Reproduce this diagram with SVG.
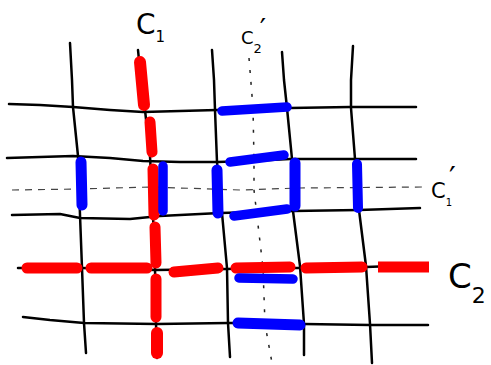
<svg xmlns="http://www.w3.org/2000/svg" width="491" height="365" viewBox="0 0 491 365">
<style>
.g{fill:none;stroke:#000;stroke-width:2.5;stroke-linecap:round;stroke-linejoin:round}
.dash{fill:none;stroke:#444;stroke-width:1.2;stroke-dasharray:7 6}
.dot{fill:none;stroke:#222;stroke-width:1.5;stroke-dasharray:3 9}
.b{fill:none;stroke:#0000ff;stroke-width:9.5;stroke-linecap:round}
.r{fill:none;stroke:#ff0000;stroke-width:11;stroke-linecap:round}
.lbl{font-family:"DejaVu Sans","Liberation Sans",sans-serif;fill:#000}
</style>
<rect width="491" height="365" fill="#fff"/>
<g id="grid">
<polyline class="g" points="9,104 40,105 73,107 110,110 143,112 180,111 217,110 250,109 290,108 350,107 416,107"/>
<polyline class="g" points="7,158 40,157 73,156 110,158 143,161 180,162 217,162 250,161 290,159 355,159 416,159"/>
<polyline class="g" points="12,215 60,214 80,218 130,219 160,216 220,213 293,211 359,210 420,208"/>
<polyline class="g" points="18,268 82,268 155,270 227,269 262,268 301,268 366,267 420,265"/>
<polyline class="g" points="23,317 50,320 84,323 157,324 228,323 265,323 304,324 370,325 428,325"/>
<polyline class="g" points="70,43 72,80 73,107 78,156 80,215 82,268 84,323 86,353"/>
<polyline class="g" points="138,50 141,80 145,110 150,156 153,215 155,268 156,323 157,358"/>
<polyline class="g" points="212,50 214,80 215,110 217,162 222,213 227,268 228,323 230,357"/>
<polyline class="g" points="282,52 284,80 287,108 292,159 293,211 300,266 304,324 304,355"/>
<polyline class="g" points="353,46 351,80 351,108 355,159 359,210 366,266 370,324 372,363"/>
</g>
<g id="dashed-lines">
<polyline class="dash" points="12,190 80,189 150,187 240,190 300,188 423,187"/>
<polyline class="dot" points="249,58 253,108 254,160 254,190 263,268 265,324 272,363"/>
</g>
<g id="red-cycles">
<path class="r" d="M140,62 L144,105" style="stroke-width:12"/>
<path class="r" d="M150,122 L152,152"/>
<path class="r" d="M153,169 L154,215"/>
<path class="r" d="M155,227 L156,263"/>
<path class="r" d="M156,279 L156,317"/>
<path class="r" d="M157,333 L157,353" style="stroke-width:12"/>
<path class="r" d="M27,268 L77,268"/>
<path class="r" d="M91,268 L147,268"/>
<path class="r" d="M174,272 L218,268"/>
<path class="r" d="M236,268 L290,267"/>
<path class="r" d="M306,268 L362,267"/>
<path class="r" d="M378,267 L429,267" style="stroke-width:11;stroke-linecap:butt"/>
</g>
<g id="blue-cycles">
<path class="b" d="M222,111 L287,107"/>
<path class="b" d="M230,162 L284,155"/>
<path class="b" d="M81,162 L82,205" style="stroke-width:11"/>
<path class="b" d="M163,166 L163,211"/>
<path class="b" d="M217,170 L218,213" style="stroke-width:11"/>
<path class="b" d="M295,163 L295,206" style="stroke-width:11"/>
<path class="b" d="M357,164 L358,208" style="stroke-width:10"/>
<path class="b" d="M234,216 L287,209"/>
<path class="b" d="M239,278 L293,279"/>
<path class="b" d="M238,323 L300,325" style="stroke-width:11"/>
</g>
<g id="labels">
<text class="lbl" x="136" y="34" font-size="28">C<tspan font-size="15" dy="8">1</tspan></text>
<text class="lbl" x="241" y="44" font-size="18">C<tspan font-size="13" dy="9">2</tspan><tspan font-size="28" dx="-2" dy="-14">′</tspan></text>
<text class="lbl" x="431" y="198" font-size="21">C<tspan font-size="10" dy="8">1</tspan><tspan font-size="30" dx="-3" dy="-18">′</tspan></text>
<text class="lbl" x="448" y="288" font-size="34">C<tspan font-size="22" dy="15">2</tspan></text>
</g>
</svg>
